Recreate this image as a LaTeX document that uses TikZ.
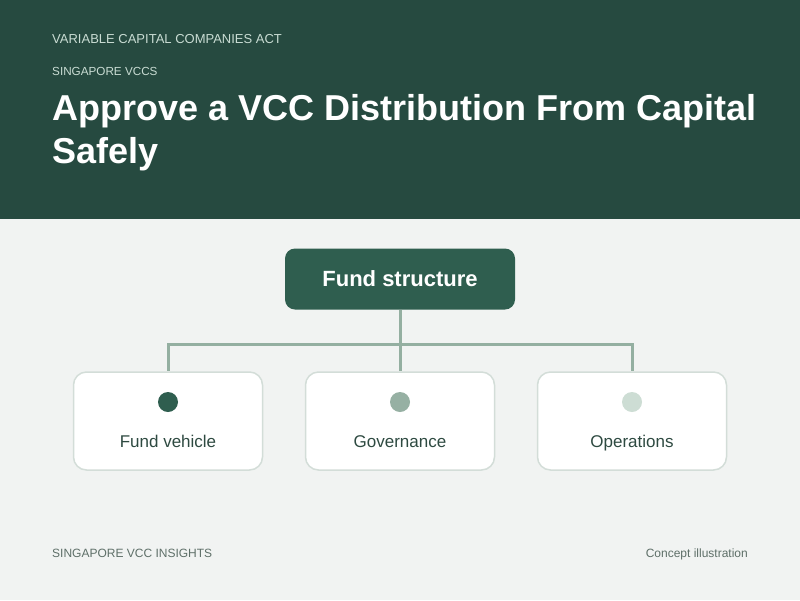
\documentclass[tikz,border=0pt]{standalone}
\usepackage{fontspec}
\setmainfont{Liberation Sans}
\usepackage{xcolor}
\usetikzlibrary{positioning}

\definecolor{headgreen}{HTML}{264A40}
\definecolor{topgreen}{HTML}{2F5E4F}
\definecolor{linkgreen}{HTML}{94AFA1}
\definecolor{paleback}{HTML}{F1F3F2}
\definecolor{boxline}{HTML}{D3DDD8}
\definecolor{dotmid}{HTML}{96B0A3}
\definecolor{dotpale}{HTML}{CDDDD4}
\definecolor{labeltext}{HTML}{2E4A41}
\definecolor{kickertext}{HTML}{C9DCD3}
\definecolor{foottext}{HTML}{5E6F68}

\tikzset{
  rootbox/.style={draw=none, fill=topgreen, rounded corners=10pt,
    minimum width=230, minimum height=61, text=white,
    font=\fontsize{22}{26}\selectfont\bfseries},
  leafbox/.style={draw=boxline, line width=1.5pt, fill=white,
    rounded corners=13pt, minimum width=189, minimum height=98},
  leaflabel/.style={anchor=base, text=labeltext, inner sep=0pt,
    font=\fontsize{17}{20}\selectfont},
  link/.style={draw=linkgreen, line width=3pt},
  kicker/.style={anchor=base west, text=kickertext, inner sep=0pt},
  footnote/.style={text=foottext, inner sep=0pt,
    font=\fontsize{12}{14}\selectfont}
}

\begin{document}
\begin{tikzpicture}[x=1pt,y=-1pt]

% ------------------------------------------------------------
% Page background and header band
% ------------------------------------------------------------
\useasboundingbox (0,0) rectangle (800,600);
\fill[paleback] (0,0) rectangle (800,600);
\fill[headgreen] (0,0) rectangle (800,219);

% ------------------------------------------------------------
% Header texts
% ------------------------------------------------------------
\node[kicker, font=\fontsize{13}{15}\selectfont] (act) at (52,43)
{VARIABLE CAPITAL COMPANIES ACT};
\node[kicker, font=\fontsize{11.7}{14}\selectfont] (series) at (52,75.5)
{SINGAPORE VCCS};
\node[anchor=north west, inner sep=0pt, text=white, align=left,
  font=\fontsize{36}{43}\selectfont\bfseries] (title) at (52,94)
{Approve a VCC Distribution From Capital\\Safely};

% ------------------------------------------------------------
% Root node and the three children
% ------------------------------------------------------------
\node[rootbox] (root) at (400,279) {Fund structure};

\node[leafbox] (vehicle) at (168,421) {};
\node[leafbox] (gov) at (400,421) {};
\node[leafbox] (ops) at (632,421) {};

\coordinate (bar) at (400,344);

% connectors: trunk, then the bar down to each child
\draw[link] (root.south) -- (bar);
\draw[link] (bar) -| (vehicle.north);
\draw[link] (bar) -| (ops.north);
\draw[link] (bar) -- (gov.north);

% dots and labels inside the children
\fill[topgreen] (vehicle.center) ++(0,-19) circle (10);
\fill[dotmid] (gov.center) ++(0,-19) circle (10);
\fill[dotpale] (ops.center) ++(0,-19) circle (10);

\node[leaflabel] (vehiclename) at (168,447) {Fund vehicle};
\node[leaflabel] (govname) at (400,447) {Governance};
\node[leaflabel] (opsname) at (632,447) {Operations};

% ------------------------------------------------------------
% Footer
% ------------------------------------------------------------
\node[footnote, anchor=base west] (brand) at (52,557.5)
{SINGAPORE VCC INSIGHTS};
\node[footnote, anchor=base east] (note) at (748,557.5)
{Concept illustration};

\end{tikzpicture}
\end{document}
